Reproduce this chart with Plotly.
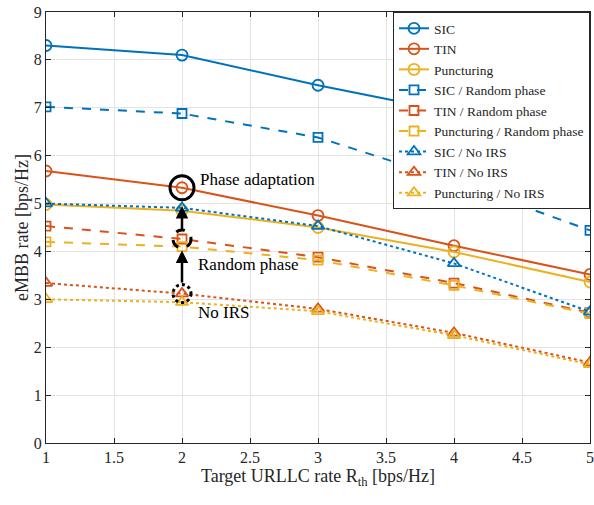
import plotly.graph_objects as go

x_vals = [1, 2, 3, 4, 5]
sic = [8.30, 8.10, 7.47, 6.90, 5.65]
tin = [5.68, 5.33, 4.75, 4.12, 3.52]
punct = [4.98, 4.85, 4.50, 3.99, 3.36]
sic_rand = [7.02, 6.88, 6.38, 5.47, 4.44]
tin_rand = [4.53, 4.26, 3.88, 3.34, 2.72]
punct_rand = [4.20, 4.10, 3.82, 3.29, 2.70]
sic_noirs = [5.00, 4.91, 4.53, 3.75, 2.74]
tin_noirs = [3.34, 3.12, 2.80, 2.30, 1.68]
punct_noirs = [3.00, 2.94, 2.75, 2.25, 1.64]

names = ["SIC", "TIN", "Puncturing",
         "SIC / Random phase", "TIN / Random phase", "Puncturing / Random phase",
         "SIC / No IRS", "TIN / No IRS", "Puncturing / No IRS"]
series = [sic, tin, punct, sic_rand, tin_rand, punct_rand, sic_noirs, tin_noirs, punct_noirs]

BLUE, RED, YEL = "#0072BD", "#D95319", "#EDB120"
colors = [BLUE, RED, YEL] * 3
dashes = ["solid"] * 3 + ["dash"] * 3 + ["dot"] * 3
symbols = ["circle-open"] * 3 + ["square-open"] * 3 + ["triangle-up-open"] * 3
sizes = [11] * 3 + [9] * 3 + [11] * 3

fig = go.Figure()
for n, s, c, d, sy, sz in zip(names, series, colors, dashes, symbols, sizes):
    fig.add_trace(go.Scatter(
        x=x_vals, y=s, name=n, mode="lines+markers",
        line=dict(color=c, width=2, dash=d),
        marker=dict(symbol=sy, size=sz, color=c, line=dict(width=1.8, color=c)),
    ))

FONT = "Liberation Serif"
DARK = "#262626"

# annotation circles
circ = [(2, tin[1], "solid", 24), (2, tin_rand[1], "dash", 18), (2, tin_noirs[1], "dot", 18)]
for cx, cy, dsh, sz in circ:
    fig.add_shape(type="circle", xref="x", yref="y", xsizemode="pixel", ysizemode="pixel",
                  xanchor=cx, yanchor=cy, x0=-sz / 2, x1=sz / 2, y0=-sz / 2, y1=sz / 2,
                  line=dict(color="black", width=3, dash=dsh))

# arrows
fig.add_annotation(x=2, y=4.95, ax=2, ay=4.42, xref="x", yref="y", axref="x", ayref="y",
                   showarrow=True, arrowhead=2, arrowsize=1, arrowwidth=2.5, arrowcolor="black", text="")
fig.add_annotation(x=2, y=4.02, ax=2, ay=3.32, xref="x", yref="y", axref="x", ayref="y",
                   showarrow=True, arrowhead=2, arrowsize=1, arrowwidth=2.5, arrowcolor="black", text="")

for tx, ty, t in [(2.12, 5.5, "Phase adaptation"), (2.1, 3.72, "Random phase"), (2.1, 2.72, "No IRS")]:
    fig.add_annotation(x=tx, y=ty, xref="x", yref="y", text=t, showarrow=False,
                       xanchor="left", font=dict(family=FONT, size=17, color="black"))

fig.update_layout(
    width=594, height=505,
    margin=dict(l=46, r=4, t=12, b=62),
    plot_bgcolor="white", paper_bgcolor="white",
    font=dict(family=FONT, size=16, color=DARK),
    showlegend=True,
    legend=dict(x=1, y=1, xanchor="right", yanchor="top",
                bgcolor="white", bordercolor=DARK, borderwidth=1,
                font=dict(family=FONT, size=13.5, color=DARK),
                tracegroupgap=0, itemwidth=30),
)
axis_common = dict(showgrid=True, gridcolor="#e3e3e3", gridwidth=1,
                   showline=True, linecolor=DARK, linewidth=1, mirror="ticks",
                   ticks="inside", ticklen=5, tickcolor=DARK, zeroline=False,
                   automargin=False, tickfont=dict(family=FONT, size=16, color=DARK))
fig.update_xaxes(range=[1, 5], tickvals=[1, 1.5, 2, 2.5, 3, 3.5, 4, 4.5, 5],
                 ticktext=["1", "1.5", "2", "2.5", "3", "3.5", "4", "4.5", "5"],
                 title=dict(text="Target URLLC rate R<sub>th</sub> [bps/Hz]", standoff=0,
                            font=dict(family=FONT, size=18, color=DARK)),
                 **axis_common)
fig.update_yaxes(range=[0, 9], tickvals=list(range(10)),
                 title=dict(text="eMBB rate [bps/Hz]", standoff=0,
                            font=dict(family=FONT, size=18, color=DARK)),
                 **axis_common)

fig.write_html("out.html", config={"displayModeBar": False},
               post_script="document.body.style.margin='0px';document.body.style.overflow='hidden';")
